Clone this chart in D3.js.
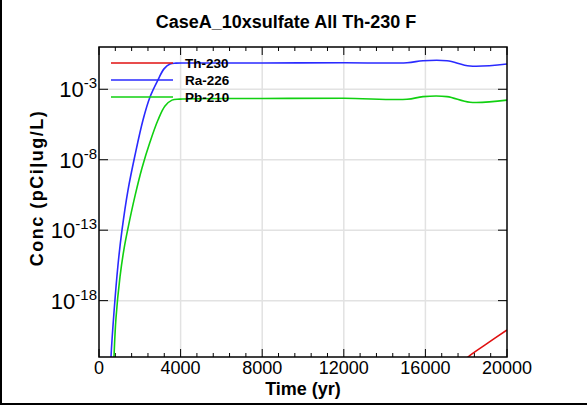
<!DOCTYPE html>
<html><head><meta charset="utf-8">
<script src="https://cdn.jsdelivr.net/npm/d3@7"></script>
<style>body{margin:0;background:#fff}svg{display:block}text{font-family:"Liberation Sans",Arial,sans-serif}</style>
</head><body>
<script>
const title = "CaseA_10xsulfate All Th-230 F";
const xTicks = [0, 4000, 8000, 12000, 16000, 20000];
const yTickExps = [-3, -8, -13, -18];
const seriesNames = ["Th-230", "Ra-226", "Pb-210"];
const seriesColors = ["#e01010", "#2a2aff", "#10d010"];

const thTime = [17900, 18088, 19069, 20000];
const thConc = [5e-23, 1e-22, 1e-21, 8.3e-21];

const raTime = [540, 588, 735, 931, 1127, 1422, 1765, 2157, 2500, 2892, 3186, 3480, 3775, 4500, 8000, 12000, 15098, 15882, 17059, 18186, 20000];
const raConc = [1e-24, 1e-22, 1.5e-19, 3.4e-16, 1e-13, 7e-11, 2.1e-8, 6.6e-6, 2.8e-4, 4.6e-3, 2.8e-2, 6.2e-2, 7.2e-2, 7.3e-2, 7.4e-2, 7.6e-2, 7.7e-2, 0.107, 0.107, 0.045, 0.062];

const pbTime = [690, 735, 833, 1029, 1225, 1422, 1765, 2108, 2500, 2892, 3235, 3578, 3971, 8000, 12000, 15098, 15882, 17059, 18186, 20000];
const pbConc = [1e-24, 1e-22, 5.9e-20, 4.8e-17, 4.6e-15, 1.4e-13, 2.7e-11, 2.6e-9, 1.8e-7, 6.6e-6, 6.5e-5, 1.7e-4, 2.0e-4, 2.2e-4, 2.3e-4, 1.95e-4, 3.0e-4, 3.0e-4, 1.2e-4, 1.7e-4];

const W = 587, H = 409;
const m = {left: 99, right: 507, top: 47, bottom: 357};
const svg = d3.select("body").append("svg").attr("width", W).attr("height", H);

const x = d3.scaleLinear().domain([0, 20000]).range([m.left, m.right]);
const y = d3.scaleLog().domain([1e-22, 1]).range([m.bottom, m.top]);

// outer frame lines
svg.append("line").attr("x1", 1).attr("x2", 1).attr("y1", 0).attr("y2", 405).attr("stroke", "#000").attr("stroke-width", 2);
svg.append("line").attr("x1", 0).attr("x2", W).attr("y1", 404).attr("y2", 404).attr("stroke", "#000").attr("stroke-width", 2);

// grid
const grid = svg.append("g").attr("stroke", "#e2e2e2").attr("stroke-width", 1.5);
xTicks.slice(1, -1).forEach(t => grid.append("line").attr("x1", x(t)).attr("x2", x(t)).attr("y1", m.top).attr("y2", m.bottom));
yTickExps.forEach(e => grid.append("line").attr("x1", m.left).attr("x2", m.right).attr("y1", y(Math.pow(10, e))).attr("y2", y(Math.pow(10, e))));

// ticks (inward)
const minorX = d3.range(0, 20001, 800);
const tk = svg.append("g").attr("stroke", "#000").attr("stroke-width", 1);
minorX.forEach(t => {
  const major = t % 4000 === 0;
  const L = major ? 8 : 4;
  tk.append("line").attr("x1", x(t)).attr("x2", x(t)).attr("y1", m.bottom).attr("y2", m.bottom - L);
  tk.append("line").attr("x1", x(t)).attr("x2", x(t)).attr("y1", m.top).attr("y2", m.top + L);
});
yTickExps.forEach(e => {
  const yy = y(Math.pow(10, e));
  tk.append("line").attr("x1", m.left).attr("x2", m.left + 9).attr("y1", yy).attr("y2", yy);
  tk.append("line").attr("x1", m.right).attr("x2", m.right - 9).attr("y1", yy).attr("y2", yy);
});

// clip
svg.append("clipPath").attr("id", "clip").append("rect")
  .attr("x", m.left).attr("y", m.top).attr("width", m.right - m.left).attr("height", m.bottom - m.top);

const line = d3.line().x(d => x(d[0])).y(d => y(d[1])).curve(d3.curveCatmullRom.alpha(0.5));
const data = [d3.zip(thTime, thConc), d3.zip(raTime, raConc), d3.zip(pbTime, pbConc)];
const plot = svg.append("g").attr("clip-path", "url(#clip)");
data.forEach((d, i) => plot.append("path").attr("d", line(d)).attr("fill", "none")
  .attr("stroke", seriesColors[i]).attr("stroke-width", 1.6));

// legend
seriesNames.forEach((n, i) => {
  const ly = 63 + i * 17;
  svg.append("line").attr("x1", 111).attr("x2", 173).attr("y1", ly).attr("y2", ly)
    .attr("stroke", seriesColors[i]).attr("stroke-width", 1.6);
  svg.append("text").attr("x", 185).attr("y", ly + 5).attr("font-size", 13.5)
    .attr("font-weight", "bold").text(n);
});

// frame
svg.append("rect").attr("x", m.left).attr("y", m.top).attr("width", m.right - m.left)
  .attr("height", m.bottom - m.top).attr("fill", "none").attr("stroke", "#000").attr("stroke-width", 1.5);

// x tick labels
xTicks.forEach(t => svg.append("text").attr("x", x(t)).attr("y", 374).attr("text-anchor", "middle")
  .attr("font-size", 18).text(t));

// y tick labels
yTickExps.forEach(e => {
  const tx = svg.append("text").attr("x", 97).attr("y", y(Math.pow(10, e)) + 8).attr("text-anchor", "end")
    .attr("font-size", 22);
  tx.append("tspan").text("10");
  tx.append("tspan").attr("dy", -9).attr("font-size", 15).text(e);
});

// titles
svg.append("text").attr("x", 286).attr("y", 28).attr("text-anchor", "middle")
  .attr("font-size", 18).attr("font-weight", "bold").text(title);
svg.append("text").attr("x", 303).attr("y", 395).attr("text-anchor", "middle")
  .attr("font-size", 18).attr("font-weight", "bold").text("Time (yr)");
svg.append("text").attr("transform", "translate(43,188) rotate(-90)").attr("text-anchor", "middle")
  .attr("font-size", 18).attr("font-weight", "bold").attr("letter-spacing", 1.5).text("Conc (pCi|ug/L)");
</script>
</body></html>
